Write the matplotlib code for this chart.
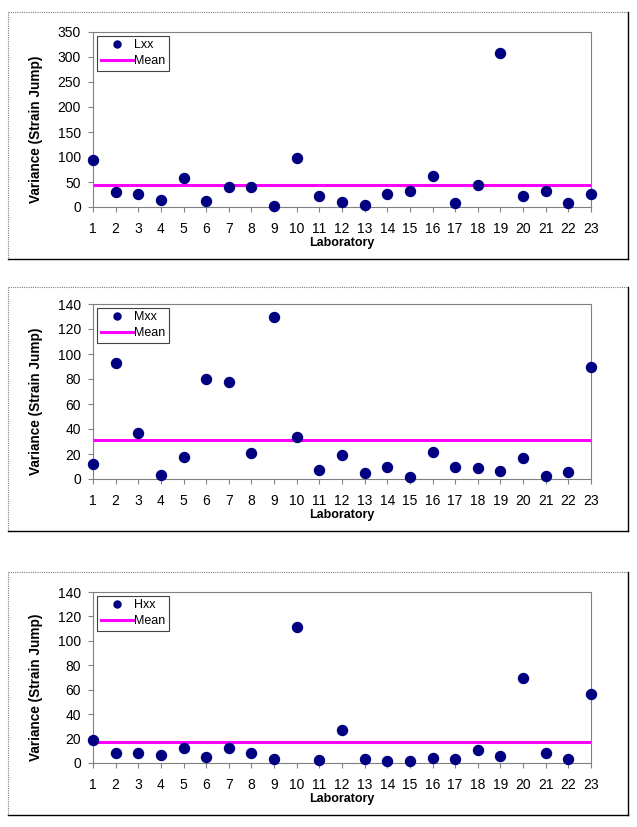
import matplotlib
matplotlib.use('Agg')
import matplotlib.pyplot as plt
from matplotlib.lines import Line2D

plt.rcParams['font.family'] = ['Liberation Sans', 'DejaVu Sans']

labs = list(range(1, 24))

# variance per laboratory
lxx = [93, 31, 26, 15, 58, 12, 40, 40, 2, 98, 23, 10, 4, 26, 32, 61, 9, 45, 307, 23, 33, 8, 26]
mxx = [12, 93, 37, 3, 18, 80, 78, 21, 130, 34, 7, 19, 4.5, 10, 1.5, 22, 10, 9, 6.5, 17, 2.5, 5.5, 90]
hxx = [19, 8.5, 8.5, 6.5, 12, 5, 12.5, 8, 3.5, 111, 2.5, 27, 3.5, 2, 1.5, 4.5, 3.5, 11, 5.5, 70, 8, 3.5, 56.5]

# mean lines
mean_l = 44
mean_m = 31
mean_h = 17.5

names = ['Lxx', 'Mxx', 'Hxx']
series = [lxx, mxx, hxx]
means = [mean_l, mean_m, mean_h]
ymax = [350, 140, 140]
ystep = [50, 20, 20]

W, H = 637, 827
fig = plt.figure(figsize=(W / 100, H / 100), dpi=100)

# axes boxes in pixels: (top, bottom)
ax_px = [(32, 207), (304, 479), (592, 763)]
box_px = [(12, 259), (287, 531), (572, 815)]
left_px, right_px = 93, 591
bx0, bx1 = 8, 628


def fx(px):
    return px / W


def fy(py):
    return 1 - py / H


for i in range(3):
    # outer chart frame: grey dotted top/left, black bottom/right
    bt, bb = box_px[i]
    fig.add_artist(Line2D([fx(bx0), fx(bx1)], [fy(bt), fy(bt)], color='#808080',
                          linewidth=0.8, linestyle=(0, (1, 1))))
    fig.add_artist(Line2D([fx(bx0), fx(bx0)], [fy(bt), fy(bb)], color='#808080',
                          linewidth=0.8, linestyle=(0, (1, 1))))
    fig.add_artist(Line2D([fx(bx0), fx(bx1)], [fy(bb), fy(bb)], color='black', linewidth=1.0))
    fig.add_artist(Line2D([fx(bx1), fx(bx1)], [fy(bt), fy(bb)], color='black', linewidth=1.0))

    top, bot = ax_px[i]
    ax = fig.add_axes([fx(left_px), fy(bot), (right_px - left_px) / W, (bot - top) / H])
    ax.plot(labs, series[i], 'o', color='#000080', markersize=7.2, label=names[i],
            clip_on=False, zorder=3)
    ax.axhline(means[i], color='#FF00FF', linewidth=2.2, label='Mean', zorder=2)

    ax.set_xlim(1, 23)
    ax.set_ylim(0, ymax[i])
    ax.set_xticks(labs)
    ax.set_yticks(range(0, ymax[i] + 1, ystep[i]))
    ax.tick_params(axis='both', labelsize=10, direction='out', length=3.6,
                   color='#808080', width=0.8)
    ax.tick_params(axis='y', pad=5)
    ax.tick_params(axis='x', pad=7)
    for s in ax.spines.values():
        s.set_color('#808080')
        s.set_linestyle((0, (1, 1)))
        s.set_linewidth(0.8)

    ax.set_xlabel('Laboratory', fontsize=9, fontweight='bold', labelpad=1)
    ax.set_ylabel('Variance (Strain Jump)', fontsize=9.8, fontweight='bold')
    ax.yaxis.set_label_coords(-0.10, 0.445)

    leg = ax.legend(loc='upper left', fontsize=9, frameon=True, fancybox=False,
                    edgecolor='#404040', framealpha=1, borderpad=0.3, labelspacing=0.3,
                    handlelength=2.6, handletextpad=0.1, borderaxespad=0.3,
                    markerscale=0.7)
    leg.get_frame().set_linewidth(0.8)

fig.savefig('out.png', dpi=100)
